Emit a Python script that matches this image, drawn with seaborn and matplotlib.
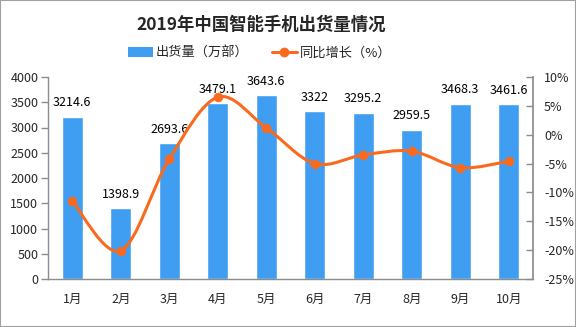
import matplotlib
matplotlib.use("Agg")
import matplotlib.pyplot as plt
import seaborn as sns
import pandas as pd
import numpy as np
from matplotlib.path import Path
from matplotlib.patches import PathPatch, Rectangle
from matplotlib.lines import Line2D
from matplotlib.patches import Patch

months = ["1月", "2月", "3月", "4月", "5月", "6月", "7月", "8月", "9月", "10月"]
shipments = [3214.6, 1398.9, 2693.6, 3479.1, 3643.6, 3322, 3295.2, 2959.5, 3468.3, 3461.6]
yoy = [-11.5, -20.1, -4.2, 6.5, 1.2, -5.0, -3.5, -2.85, -5.7, -4.6]
left_ticks = [0, 500, 1000, 1500, 2000, 2500, 3000, 3500, 4000]
right_ticks = [-25, -20, -15, -10, -5, 0, 5, 10]

title = "2019年中国智能手机出货量情况"
bar_label = "出货量（万部）"
line_label = "同比增长（%）"

BLUE = "#3F9EF1"
ORANGE = "#FA6A1E"
GRAY = "#8C8C8C"

sns.set_theme(style="white")
plt.rcParams['font.family'] = ['Noto Sans CJK SC', 'DejaVu Sans']
plt.rcParams['axes.unicode_minus'] = False

df = pd.DataFrame({"month": months, "shipments": shipments, "yoy": yoy})

fig = plt.figure(figsize=(5.76, 3.27), dpi=100)
ax = fig.add_axes([48/576, 1-279/327, (533-48)/576, (279-77)/327])

sns.barplot(data=df, x="month", y="shipments", color=BLUE, width=0.43,
            saturation=1, ax=ax, zorder=2)
ax.set_xlim(-0.5, len(months) - 0.5)
ax.set_ylim(0, 4000)
ax.set_yticks(left_ticks)
ax.set_yticklabels([str(t) for t in left_ticks], fontsize=9)
ax.set_xlabel("")
ax.set_ylabel("")
ax.set_xticks(range(len(months)))
ax.set_xticklabels(months, fontsize=9)
ax.tick_params(axis="x", length=0, pad=10)
ax.set_xticks(np.arange(-0.5, len(months)), minor=True)
ax.tick_params(axis="x", which="minor", length=5, direction="out", color=GRAY, width=1)
ax.tick_params(axis="y", length=5, direction="out", color=GRAY, width=1, pad=2)
for s in ["top", "right"]:
    ax.spines[s].set_visible(False)
for s in ["left", "bottom"]:
    ax.spines[s].set_color(GRAY)
    ax.spines[s].set_linewidth(1)

for i, v in enumerate(shipments):
    ax.annotate(f"{v:g}", (i, v), xytext=(0, 10), textcoords="offset points",
                ha="center", va="center", fontsize=9, color="black", zorder=5)

ax2 = ax.twinx()
ax2.set_ylim(-25, 10)
ax2.set_yticks(right_ticks)
ax2.set_yticklabels([f"{t}%" for t in right_ticks], fontsize=9)
ax2.tick_params(axis="y", length=5, direction="in", color=GRAY, width=1, pad=8)
for s in ["top", "left", "bottom"]:
    ax2.spines[s].set_visible(False)
ax2.spines["right"].set_color(GRAY)

# smoothed line (Catmull-Rom as Bezier) through the data points
x = np.arange(len(yoy), dtype=float)
y = np.array(yoy, dtype=float)
verts = [(x[0], y[0])]
codes = [Path.MOVETO]
n = len(x)
for i in range(n - 1):
    p0 = (x[max(i-1, 0)], y[max(i-1, 0)])
    p1 = (x[i], y[i])
    p2 = (x[i+1], y[i+1])
    p3 = (x[min(i+2, n-1)], y[min(i+2, n-1)])
    c1 = (p1[0] + (p2[0]-p0[0])/6, p1[1] + (p2[1]-p0[1])/6)
    c2 = (p2[0] - (p3[0]-p1[0])/6, p2[1] - (p3[1]-p1[1])/6)
    verts += [c1, c2, p2]
    codes += [Path.CURVE4]*3
ax2.add_patch(PathPatch(Path(verts, codes), facecolor="none", edgecolor=ORANGE, lw=2.2, zorder=3))
sns.scatterplot(data=df, x=np.arange(len(months)), y="yoy", color=ORANGE, s=40,
                edgecolor=ORANGE, ax=ax2, zorder=4, legend=False)
ax2.set_ylabel("")
ax2.set_xlim(-0.5, len(months) - 0.5)

fig.text(0.453, 1-25/327, title, ha="center", va="center", fontsize=12.5, fontweight="bold")

handles = [Patch(facecolor=BLUE, edgecolor="none"),
           Line2D([0], [0], color=ORANGE, lw=2.2, marker="o", markersize=6)]
fig.legend(handles, [bar_label, line_label], loc="center", bbox_to_anchor=(0.4505, 1-53/327),
           ncol=2, frameon=False, fontsize=9.5, handlelength=1.9, columnspacing=1.8,
           handletextpad=0.2)

fig.patches.append(Rectangle((0, 0), 1, 1, transform=fig.transFigure, fill=False,
                             edgecolor="#A0A0A0", lw=1.5, zorder=10))

fig.savefig("out.png", dpi=100)
